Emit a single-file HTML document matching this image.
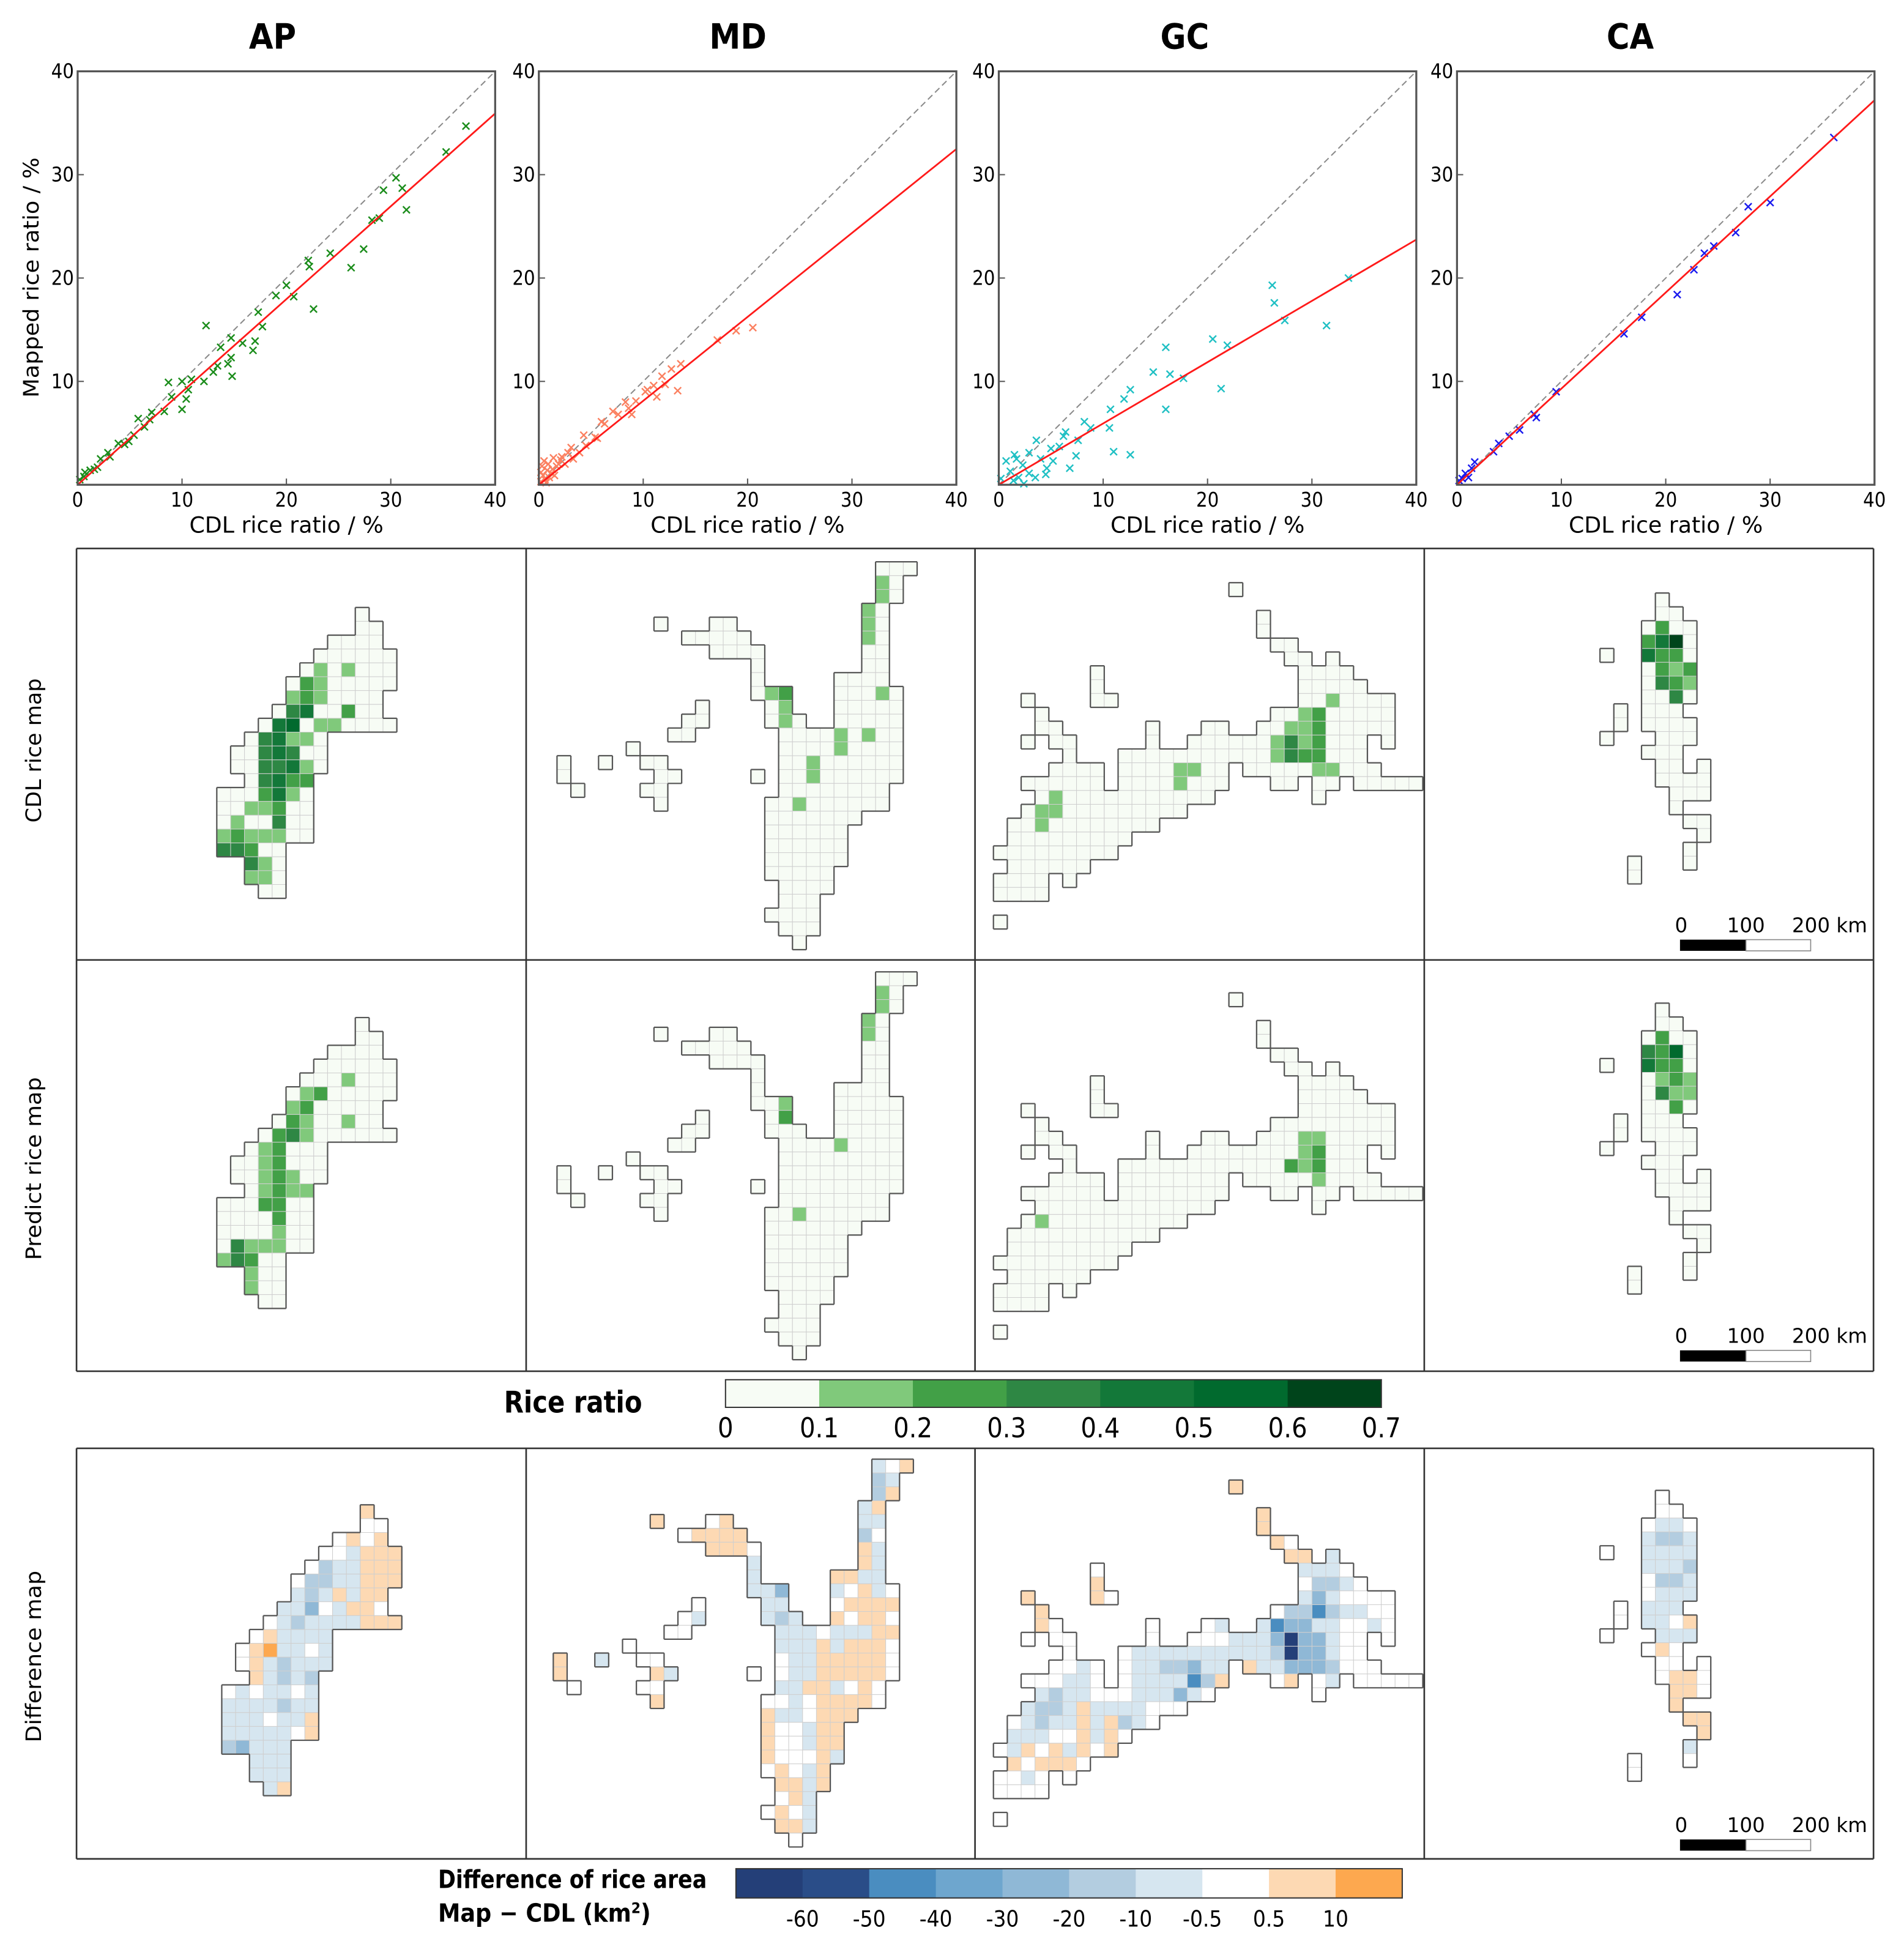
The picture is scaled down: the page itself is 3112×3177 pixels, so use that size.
<!DOCTYPE html>
<html><head><meta charset="utf-8">
<style>
html,body{margin:0;padding:0;background:#fff;width:3112px;height:3177px;overflow:hidden}
svg{display:block}
.c{font-family:"DejaVu Sans Condensed","DejaVu Sans","Liberation Sans",sans-serif;font-stretch:condensed}
.n{font-family:"DejaVu Sans","Liberation Sans",sans-serif}
</style></head>
<body>
<svg id="fig" xmlns="http://www.w3.org/2000/svg" width="3112" height="3177" viewBox="0 0 1530 1562" preserveAspectRatio="none">
<rect x="0" y="0" width="1530" height="1562" fill="#fff"/>
<text class="c" x="219" y="39" font-size="28" font-weight="bold" text-anchor="middle">AP</text>
<text class="c" x="593" y="39" font-size="28" font-weight="bold" text-anchor="middle">MD</text>
<text class="c" x="952" y="39" font-size="28" font-weight="bold" text-anchor="middle">GC</text>
<text class="c" x="1310" y="39" font-size="28" font-weight="bold" text-anchor="middle">CA</text>
<text class="n" x="0" y="0" font-size="17" text-anchor="middle" textLength="193" lengthAdjust="spacingAndGlyphs" transform="translate(31,223) rotate(-90)">Mapped rice ratio / %</text>
<text class="n" x="0" y="0" font-size="17" text-anchor="middle" textLength="116" lengthAdjust="spacingAndGlyphs" transform="translate(33,603) rotate(-90)">CDL rice map</text>
<text class="n" x="0" y="0" font-size="17" text-anchor="middle" textLength="147" lengthAdjust="spacingAndGlyphs" transform="translate(33,939) rotate(-90)">Predict rice map</text>
<text class="n" x="0" y="0" font-size="17" text-anchor="middle" textLength="138" lengthAdjust="spacingAndGlyphs" transform="translate(33,1331) rotate(-90)">Difference map</text>
<text class="c" x="405" y="1135" font-size="24" font-weight="bold" textLength="111" lengthAdjust="spacingAndGlyphs">Rice ratio</text>
<text class="c" x="352" y="1517" font-size="20" font-weight="bold" textLength="216" lengthAdjust="spacingAndGlyphs">Difference of rice area</text>
<text class="c" x="352" y="1544" font-size="20" font-weight="bold">Map − CDL (km<tspan baseline-shift="super" font-size="12">2</tspan>)</text>
<g id="scatters"></g>
<g id="maps"></g>
<g id="bars"></g>
</svg>
<script>
// ---------- scatter data ----------
const regions = ['AP','MD','GC','CA'];
const markerColors = ['#1a8c1a','#fb8060','#20c0c4','#1a1aee'];
const fitSlopes = [0.898, 0.812, 0.593, 0.93];
const xTicks = [0,10,20,30,40];
const yTicks = [10,20,30,40];
const apPoints = [[37.2,34.7],[35.3,32.2],[30.5,29.7],[29.3,28.5],[31.1,28.7],[31.5,26.6],[28.2,25.6],[28.9,25.8],[27.4,22.8],[26.2,21.0],[24.2,22.4],[22.1,21.7],[22.2,21.1],[22.6,17.0],[20.0,19.3],[19.0,18.3],[20.7,18.2],[17.3,16.7],[17.7,15.3],[12.3,15.4],[14.7,14.2],[17.0,13.9],[16.8,13.0],[15.8,13.7],[13.7,13.3],[14.7,12.3],[14.4,11.7],[14.8,10.5],[13.4,11.5],[13.0,10.9],[12.1,10.0],[10.9,10.2],[10.0,10.0],[8.7,9.9],[10.6,9.2],[10.4,8.3],[10.0,7.3],[9.0,8.5],[8.3,7.1],[7.1,7.0],[6.9,6.3],[5.8,6.4],[6.4,5.6],[5.4,4.8],[4.5,3.9],[3.9,4.0],[3.1,2.7],[2.2,2.5],[1.9,1.7],[1.2,1.4],[0.6,0.8],[0.2,0.5],[4.9,4.2],[0.7,1.2],[1.6,1.5],[2.9,3.1]];
const mdPoints = [[20.5,15.2],[18.9,14.9],[17.1,14.0],[13.3,9.1],[13.6,11.7],[12.7,11.2],[11.8,10.5],[11.3,8.5],[12.1,9.7],[10.4,9.2],[8.9,6.8],[8.3,8.0],[7.1,7.1],[6.0,6.1],[5.4,4.6],[4.3,4.8],[3.9,3.1],[3.1,3.6],[2.2,2.7],[1.9,2.0],[1.3,1.5],[0.2,0.3],[0.4,0.9],[0.6,0.5],[0.8,1.4],[1.0,0.7],[0.3,1.8],[1.2,1.1],[0.5,2.3],[1.5,0.9],[0.9,2.0],[1.7,1.8],[0.2,1.2],[2.1,2.4],[2.5,2.0],[1.4,2.6],[0.7,0.2],[2.8,3.1],[3.3,2.5],[4.5,3.8],[5.6,4.5],[6.3,5.9],[7.6,6.8],[8.6,7.4],[9.3,8.1],[10.2,9.0],[11.0,9.6]];
const gcPoints = [[33.5,20.0],[26.2,19.3],[26.4,17.6],[27.4,15.9],[31.4,15.4],[16.0,13.3],[20.5,14.1],[21.9,13.5],[14.8,10.9],[16.4,10.7],[17.7,10.3],[21.3,9.3],[16.0,7.3],[12.6,9.2],[12.0,8.3],[10.7,7.3],[10.6,5.5],[12.6,2.9],[11.0,3.2],[8.8,5.5],[7.6,4.3],[8.2,6.1],[6.4,5.1],[5.8,3.7],[6.8,1.6],[4.6,1.6],[5.0,3.5],[4.0,2.5],[3.6,4.3],[2.9,3.1],[2.3,1.9],[1.7,2.5],[1.1,1.3],[1.9,0.7],[2.9,1.1],[0.7,2.3],[0.2,0.6],[1.4,0.4],[2.4,0.1],[3.5,0.7],[5.2,2.3],[6.2,4.7],[7.4,2.8],[4.5,1.0],[1.5,2.9]];
const caPoints = [[36.1,33.6],[30.0,27.3],[27.9,26.9],[26.7,24.4],[24.6,23.1],[23.7,22.4],[22.7,20.8],[21.1,18.4],[17.7,16.2],[16.0,14.6],[9.5,9.0],[7.4,6.8],[7.6,6.5],[6.0,5.3],[5.0,4.7],[4.0,4.0],[3.5,3.2],[1.7,2.2],[1.4,1.6],[0.8,1.1],[0.5,0.6],[0.2,0.4],[1.1,0.7]];
const allPoints = [apPoints, mdPoints, gcPoints, caPoints];

// ---------- map data ----------
const greenColors = ['#f7fcf5','#80c97b','#42a047','#2e8744','#137839','#016a2e','#00441b'];
const diffColors = {f:'#243f78',e:'#2a4d88',d:'#4a8dc0',c:'#8fb8d6',b:'#b3cde0',a:'#d6e6f0',w:'#ffffff',o:'#fdd9b3',p:'#fda84f'};
const riceTicks = ['0','0.1','0.2','0.3','0.4','0.5','0.6','0.7'];
const diffTicks = ['-60','-50','-40','-30','-20','-10','-0.5','0.5','10'];
const diffBarColors = ['#243f78','#2a4d88','#4a8dc0','#6ea6ce','#8fb8d6','#b3cde0','#d6e6f0','#ffffff','#fdd9b3','#fda84f'];

const apCdl = [[[10,"0"]],[[10,"00"]],[[8,"0000"]],[[7,"000000"]],[[6,"0101000"]],[[5,"02100000"]],[[5,"1210000"]],[[4,"03400200"]],[[3,"0450110000"]],[[2,"034110"]],[[1,"0034300"]],[[1,"0033410"]],[[2,"03422"]],[[0,"0002410"]],[[0,"0011200"]],[[0,"0100300"]],[[0,"1211100"]],[[0,"33200"]],[[2,"310"]],[[2,"110"]],[[3,"00"]]];
const apPred = [[4,9,1],[5,6,1],[5,7,2],[6,5,1],[6,6,2],[7,5,2],[7,6,1],[7,9,1],[8,4,2],[8,5,3],[8,6,1],[9,3,1],[9,4,2],[10,3,1],[10,4,2],[11,3,1],[11,4,2],[11,5,1],[12,3,1],[12,4,2],[12,5,1],[12,6,1],[13,3,2],[13,4,2],[14,4,2],[15,4,1],[16,1,3],[16,2,1],[16,3,1],[16,4,1],[17,0,1],[17,1,3],[17,2,2],[18,2,1],[19,2,1]];
const apDiff = ["o","ww","wowo","wwaooo","wbaaooo","wbbaaooo","abaoaoo","aacwaoow","wabaaaaooo","woaaaa","wopaawa","woabaaa","oabab","wawaawa","aaaabaa","aaawaao","aaaaawo","bcaaa","aaa","aaa","ao"];

const mdCdl = [[[23,"000"]],[[23,"10"]],[[23,"10"]],[[22,"10"]],[[7,"0"],[11,"00"],[22,"10"]],[[9,"00000"],[22,"10"]],[[11,"0000"],[22,"00"]],[[14,"0"],[22,"00"]],[[14,"0"],[20,"0000"]],[[14,"012"],[20,"00010"]],[[10,"0"],[15,"01"],[20,"00000"]],[[9,"00"],[15,"010"],[20,"00000"]],[[8,"00"],[16,"000010100"]],[[5,"0"],[16,"000010000"]],[[0,"0"],[3,"0"],[6,"00"],[16,"001000000"]],[[0,"0"],[7,"00"],[14,"0"],[16,"001000000"]],[[1,"0"],[6,"00"],[16,"00000000"]],[[7,"0"],[15,"001000000"]],[[15,"0000000"]],[[15,"000000"]],[[15,"000000"]],[[15,"000000"]],[[15,"00000"]],[[16,"0000"]],[[16,"000"]],[[15,"0000"]],[[16,"000"]],[[17,"0"]]];
const mdPred = [[1,23,1],[2,23,1],[3,22,1],[4,22,1],[9,16,1],[10,16,2],[12,20,1],[17,17,1]];
const mdDiff = ["awo","ba","bo","ao","owoaa","woooobw","ooowoa","aoa","aooaa","aacawoaw","waawoooo","waabaowoow","wwaaawaaaoo","waaaoaooow","oawwwaaooooow","ooawwaaooooow","wwwaaooawow","owwawoooow","oaawooo","owwaoo","owwaoo","owwwoa","wowao","ooao","woa","wowa","ooa","w"];

const gcCdl = [[[17,"0"]],[],[[19,"0"]],[[19,"0"]],[[20,"00"]],[[21,"00"],[24,"0"]],[[7,"0"],[22,"0000"]],[[7,"0"],[22,"00000"]],[[2,"0"],[7,"00"],[22,"0010000"]],[[3,"0"],[20,"001200000"]],[[3,"00"],[11,"0"],[15,"00"],[19,"0011200000"]],[[2,"0"],[4,"00"],[11,"0"],[14,"0000001312000"],[28,"0"]],[[5,"0"],[9,"000000000001322000"]],[[4,"0000"],[9,"00001100"],[18,"0000011000"]],[[2,"000000"],[9,"00001000"],[20,"00"],[23,"00"],[26,"00000"]],[[3,"0100000000000"],[23,"0"]],[[2,"011000000000"]],[[1,"00100000000"]],[[1,"000000000"]],[[0,"000000000"]],[[1,"000000"]],[[0,"0000"],[5,"0"]],[[0,"0000"]],[],[[0,"0"]]];
const gcPred = [[10,22,1],[10,23,1],[11,22,1],[11,23,2],[12,21,2],[12,22,1],[12,23,2],[13,23,1],[16,3,1]];
const gcDiff = ["o","","o","o","ow","ooa","waaaw","owbbaw","oowacawww","owbbdbaaww","owwwaadccaawwa","wwwwwwwaaacfccawww","wwaaaaaaaaaabfccaww","wwawwaabbcaaoaacccbwww","wwwaawwaaaadbowowawwwww","abaawwwaaacaww","abbaoaaaawww","wabaaoaobaw","aaawwoaow","waowoaowo","owooow","wwaww","wwww","","w"];

const caCdl = [[[4,"0"]],[[4,"00"]],[[3,"0200"]],[[3,"2460"]],[[0,"0"],[3,"4220"]],[[3,"0212"]],[[3,"0321"]],[[3,"0030"]],[[1,"0"],[3,"000"]],[[1,"0"],[3,"0000"]],[[0,"0"],[4,"000"]],[[3,"000"]],[[4,"00"],[7,"0"]],[[4,"0000"]],[[5,"000"]],[[5,"0"]],[[6,"00"]],[[7,"0"]],[[6,"0"]],[[2,"0"],[6,"0"]],[[2,"0"]]];
const caPred = [[2,4,2],[3,3,3],[3,4,2],[3,5,5],[4,3,4],[4,4,2],[4,5,2],[5,4,1],[5,5,2],[5,6,1],[6,4,3],[6,5,1],[6,6,1],[7,5,2]];
const caDiff = ["w","ww","waaw","abba","waaaa","aaab","wbba","waaa","waaa","waawo","waaa","wow","www","woow","oow","o","oo","o","a","ww","w"];

// ---------- layout ----------
const NS = 'http://www.w3.org/2000/svg';
function el(tag, parent){ const e = document.createElementNS(NS, tag); parent.appendChild(e); return e; }
const axLeft = [62.4, 433, 802.6, 1170.8];
const axW = 335.5, axTop = 57.3, axBottom = 389.5, axH = axBottom - axTop;
function sx(i, v){ return axLeft[i] + v / 40 * axW; }
function sy(v){ return axBottom - v / 40 * axH; }

const scat = document.getElementById('scatters');
regions.forEach((reg, i) => {
  const g = el('g', scat);
  
  
  // diagonal 1:1
  const d = el('line', g);
  d.setAttribute('x1', sx(i,0)); d.setAttribute('y1', sy(0)); d.setAttribute('x2', sx(i,40)); d.setAttribute('y2', sy(40));
  d.setAttribute('stroke', '#8a8a8a'); d.setAttribute('stroke-width', '1'); d.setAttribute('stroke-dasharray', '5,3');
  
  
  // points
  allPoints[i].forEach(p => {
    const x = sx(i, p[0]), y = sy(p[1]), s = 2.8;
    const m = el('path', g);
    m.setAttribute('d', `M${x-s},${y-s}L${x+s},${y+s}M${x-s},${y+s}L${x+s},${y-s}`);
    m.setAttribute('stroke', markerColors[i]); m.setAttribute('stroke-width', '1.2'); m.setAttribute('fill', 'none');
    
    
  });
  // fit line
  const f = el('line', g);
  f.setAttribute('x1', sx(i,0)); f.setAttribute('y1', sy(0)); f.setAttribute('x2', sx(i,40)); f.setAttribute('y2', sy(40*fitSlopes[i]));
  f.setAttribute('stroke', '#ff1a1a'); f.setAttribute('stroke-width', '1.4');
  
  
  // frame
  const r = el('rect', g);
  r.setAttribute('x', axLeft[i]); r.setAttribute('y', axTop); r.setAttribute('width', axW); r.setAttribute('height', axH);
  r.setAttribute('fill', 'none'); r.setAttribute('stroke', '#555'); r.setAttribute('stroke-width', '1.6');
  
  
  xTicks.forEach(t => {
    const tk = el('line', g);
    tk.setAttribute('x1', sx(i,t)); tk.setAttribute('x2', sx(i,t)); tk.setAttribute('y1', axBottom); tk.setAttribute('y2', axBottom-5);
    tk.setAttribute('stroke', '#555'); tk.setAttribute('stroke-width', '1');
    
    
    const tl = el('text', g);
    tl.setAttribute('x', sx(i,t)); tl.setAttribute('y', 407); tl.setAttribute('font-size', '16'); tl.setAttribute('text-anchor', 'middle'); tl.setAttribute('class', 'c');
    tl.textContent = t;
    
    
  });
  yTicks.forEach(t => {
    const tk = el('line', g);
    tk.setAttribute('x1', axLeft[i]); tk.setAttribute('x2', axLeft[i]+5); tk.setAttribute('y1', sy(t)); tk.setAttribute('y2', sy(t));
    tk.setAttribute('stroke', '#555'); tk.setAttribute('stroke-width', '1');
    
    
    const tl = el('text', g);
    tl.setAttribute('x', axLeft[i]-3); tl.setAttribute('y', sy(t)+5.5); tl.setAttribute('font-size', '16'); tl.setAttribute('text-anchor', 'end'); tl.setAttribute('class', 'c');
    tl.textContent = t;
    
    
  });
  const xl = el('text', g);
  xl.setAttribute('x', axLeft[i] + axW/2); xl.setAttribute('y', 428); xl.setAttribute('font-size', '18'); xl.setAttribute('text-anchor', 'middle'); xl.setAttribute('class', 'c');
  xl.setAttribute('textLength', '156'); xl.setAttribute('lengthAdjust', 'spacingAndGlyphs');
  xl.textContent = 'CDL rice ratio / %';
  
  
});

// ---------- maps ----------
const mapsG = document.getElementById('maps');
const CS = 11.13;
const mapDefs = [
  {name:'ap', x0:174.2, y0:488.1, cdl:apCdl, pred:apPred, diff:apDiff, ddx:4},
  {name:'md', x0:447.6, y0:451.4, cdl:mdCdl, pred:mdPred, diff:mdDiff, ddx:-3},
  {name:'gc', x0:798.3, y0:468.2, cdl:gcCdl, pred:gcPred, diff:gcDiff, ddx:0},
  {name:'ca', x0:1285.7, y0:476.5, cdl:caCdl, pred:caPred, diff:caDiff, ddx:0}
];
function drawMap(def, kind, dx, dy){
  const g = el('g', mapsG);
  
  
  const filled = {}; const cells = [];
  const predMap = {}; def.pred.forEach(p => predMap[p[0]+','+p[1]] = p[2]);
  def.cdl.forEach((segs, r) => {
    let k = 0;
    segs.forEach(([c0, vals]) => {
      for (let i = 0; i < vals.length; i++) {
        const c = c0 + i;
        let fill;
        if (kind === 'cdl') fill = greenColors[+vals[i]];
        else if (kind === 'predict') fill = greenColors[predMap[r+','+c] || 0];
        else { const s = def.diff[r] || ''; fill = diffColors[s[k] || 'w']; }
        k++;
        filled[r+','+c] = 1;
        cells.push({r, c, fill});
      }
    });
  });
  const ox = def.x0 + dx, oy = def.y0 + dy;
  cells.forEach(o => {
    const rc = el('rect', g);
    rc.setAttribute('x', ox + o.c*CS); rc.setAttribute('y', oy + o.r*CS); rc.setAttribute('width', CS); rc.setAttribute('height', CS);
    rc.setAttribute('fill', o.fill); rc.setAttribute('stroke', '#cfcfcf'); rc.setAttribute('stroke-width', '0.5');
    
    
  });
  let d = '';
  cells.forEach(o => {
    const x = ox + o.c*CS, y = oy + o.r*CS;
    if (!filled[(o.r-1)+','+o.c]) d += `M${x},${y}h${CS}`;
    if (!filled[(o.r+1)+','+o.c]) d += `M${x},${y+CS}h${CS}`;
    if (!filled[o.r+','+(o.c-1)]) d += `M${x},${y}v${CS}`;
    if (!filled[o.r+','+(o.c+1)]) d += `M${x+CS},${y}v${CS}`;
  });
  const b = el('path', g);
  b.setAttribute('d', d); b.setAttribute('stroke', '#555'); b.setAttribute('stroke-width', '1.1'); b.setAttribute('fill', 'none');
  
  
}
mapDefs.forEach(def => {
  drawMap(def, 'cdl', 0, 0);
  drawMap(def, 'predict', 0, 329.5);
  drawMap(def, 'difference', def.ddx, 721);
});

// panel frames
const bars = document.getElementById('bars');
function line(x1,y1,x2,y2,name,parent,w,col){
  const l = el('line', parent);
  l.setAttribute('x1',x1); l.setAttribute('y1',y1); l.setAttribute('x2',x2); l.setAttribute('y2',y2);
  l.setAttribute('stroke', col||'#333'); l.setAttribute('stroke-width', w||1.3);
  
  
  return l;
}
const colX = [61.5, 422.8, 783.5, 1144.5, 1505.5];
[[440.7,1101.8],[1163.7,1493.6]].forEach(([t,bm]) => {
  line(colX[0],t,colX[4],t,'panel-border',bars);
  line(colX[0],bm,colX[4],bm,'panel-border',bars);
  colX.forEach(x => line(x,t,x,bm,'panel-border',bars));
});
line(colX[0],771.3,colX[4],771.3,'panel-border',bars);

// scale bars
[0, 330, 723].forEach(off => {
  const g = el('g', bars);
  
  
  const labels = [['0',1351,'middle'],['100',1403,'middle'],['200 km',1440,'start']];
  labels.forEach(([t,x,a]) => {
    const tx = el('text', g);
    tx.setAttribute('x', x); tx.setAttribute('y', 749+off); tx.setAttribute('font-size', '16'); tx.setAttribute('text-anchor', a); tx.setAttribute('class','n');
    tx.textContent = t;
    
    
  });
  const r1 = el('rect', g);
  r1.setAttribute('x', 1350); r1.setAttribute('y', 755+off); r1.setAttribute('width', 53); r1.setAttribute('height', 9); r1.setAttribute('fill', '#000');
  
  
  const r2 = el('rect', g);
  r2.setAttribute('x', 1403); r2.setAttribute('y', 755+off); r2.setAttribute('width', 52); r2.setAttribute('height', 9); r2.setAttribute('fill', '#fff'); r2.setAttribute('stroke', '#888'); r2.setAttribute('stroke-width', '0.8');
  
  
});

// rice ratio colorbar
const rcX0 = 583, rcX1 = 1110, rcY = 1108.6, rcH = 22.2;
const rseg = (rcX1 - rcX0) / 7;
greenColors.forEach((c, i) => {
  const r = el('rect', bars);
  r.setAttribute('x', rcX0 + i*rseg); r.setAttribute('y', rcY); r.setAttribute('width', rseg+0.3); r.setAttribute('height', rcH); r.setAttribute('fill', c);
  
  
});
const rf = el('rect', bars);
rf.setAttribute('x', rcX0); rf.setAttribute('y', rcY); rf.setAttribute('width', rcX1-rcX0); rf.setAttribute('height', rcH); rf.setAttribute('fill', 'none'); rf.setAttribute('stroke', '#333'); rf.setAttribute('stroke-width', '1');


riceTicks.forEach((t, i) => {
  const tx = el('text', bars);
  tx.setAttribute('x', rcX0 + i*rseg); tx.setAttribute('y', 1155); tx.setAttribute('font-size', '22'); tx.setAttribute('text-anchor', 'middle'); tx.setAttribute('class', 'c');
  tx.textContent = t;
  
  
});

// difference colorbar
const dcX0 = 591.4, dcX1 = 1126.8, dcY = 1501.5, dcH = 23.5;
const dseg = (dcX1 - dcX0) / diffBarColors.length;
diffBarColors.forEach((c, i) => {
  const r = el('rect', bars);
  r.setAttribute('x', dcX0 + i*dseg); r.setAttribute('y', dcY); r.setAttribute('width', dseg+0.3); r.setAttribute('height', dcH); r.setAttribute('fill', c);
  
  
});
const df = el('rect', bars);
df.setAttribute('x', dcX0); df.setAttribute('y', dcY); df.setAttribute('width', dcX1-dcX0); df.setAttribute('height', dcH); df.setAttribute('fill', 'none'); df.setAttribute('stroke', '#333'); df.setAttribute('stroke-width', '1');


diffTicks.forEach((t, i) => {
  const tx = el('text', bars);
  tx.setAttribute('x', dcX0 + (i+1)*dseg); tx.setAttribute('y', 1548); tx.setAttribute('font-size', '18'); tx.setAttribute('text-anchor', 'middle'); tx.setAttribute('class', 'c');
  tx.textContent = t;
  
  
});
</script>
</body></html>
